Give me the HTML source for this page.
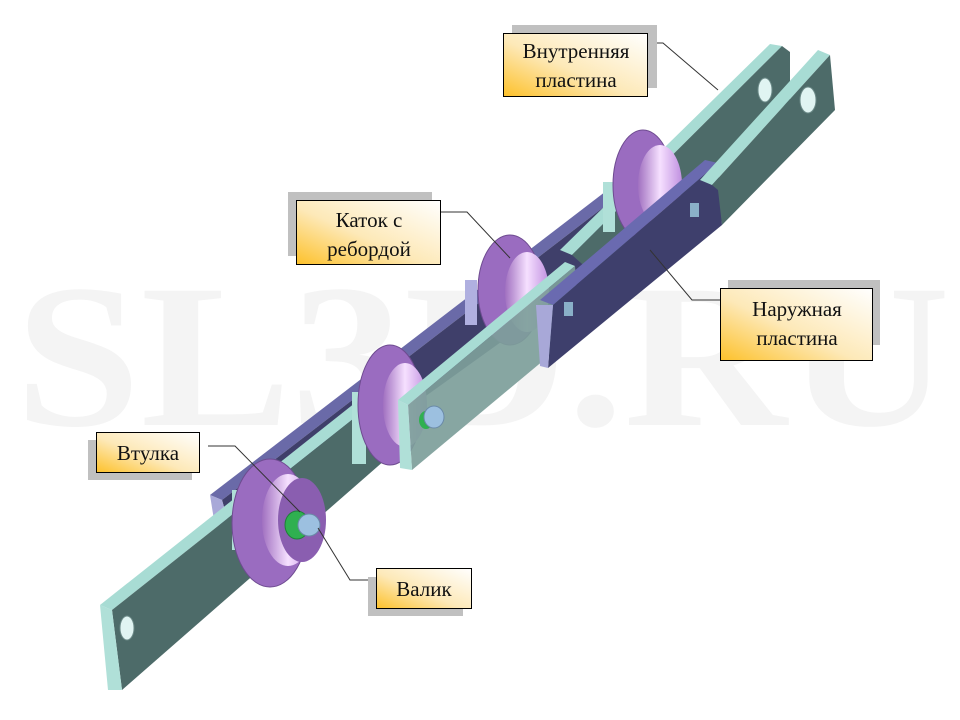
<!DOCTYPE html>
<html><head><meta charset="utf-8"><style>
html,body{margin:0;padding:0;background:#fff;}
svg{display:block;}
</style></head><body>
<svg width="960" height="720" viewBox="0 0 960 720" xmlns="http://www.w3.org/2000/svg">
<defs>
<linearGradient id="lab" x1="0" y1="1" x2="1" y2="0">
<stop offset="0" stop-color="#fdc12a"/><stop offset="0.45" stop-color="#fde9b8"/><stop offset="1" stop-color="#ffffff"/>
</linearGradient>
<linearGradient id="hub" x1="0" y1="0" x2="1" y2="0">
<stop offset="0" stop-color="#a070c0"/><stop offset="0.5" stop-color="#f6e0ff"/><stop offset="1" stop-color="#c090e0"/>
</linearGradient>
</defs>
<text x="15" y="425" font-family="Liberation Serif, serif" font-weight="bold" font-size="205" fill="#f4f4f4" textLength="935" lengthAdjust="spacingAndGlyphs">SL3D.RU</text>

<!-- back navy plate -->
<polygon points="210,495 640,165 652,170 222,500" fill="#6a6aa8"/>
<polygon points="222,500 652,170 660,228 232,535" fill="#3f3f6a"/>
<polygon points="210,495 222,500 232,535 214,520" fill="#a8a8d8"/>
<!-- back upper right inner plate -->
<polygon points="560,250 770,44 782,46 572,255" fill="#a8dcd4"/>
<polygon points="572,255 782,46 790,52 790,100 600,280" fill="#4d6b69"/>
<ellipse cx="765" cy="90" rx="7" ry="12" fill="#e0f4f2" stroke="#6c8a88"/>

<!-- back lower-left inner plate -->
<polygon points="100,605 365,395 377,400 112,610" fill="#a8dcd4"/>
<polygon points="112,610 377,400 385,460 122,690" fill="#4d6b69"/>
<polygon points="100,605 112,610 122,690 108,690" fill="#b0e0d8"/>
<ellipse cx="127" cy="628" rx="7" ry="12" fill="#e0f4f2" stroke="#6c8a88"/>

<!-- rollers -->
<g>
<rect x="232" y="490" width="10" height="60" fill="#b0e0d8"/>
<ellipse cx="270" cy="523" rx="38" ry="64" fill="#9a6cc0" stroke="#6e4b90"/>
<ellipse cx="288" cy="520" rx="26" ry="46" fill="url(#hub)"/>
<ellipse cx="302" cy="520" rx="24" ry="42" fill="#8a5eb0"/>
<ellipse cx="297" cy="525" rx="12" ry="14" fill="#2fb050" stroke="#1e8038"/>
<ellipse cx="309" cy="525" rx="11" ry="11" fill="#9cc0e0" stroke="#6a8aa8"/>

<rect x="352" y="392" width="14" height="72" fill="#b0e0d8"/>
<ellipse cx="390" cy="405" rx="32" ry="60" fill="#9a6cc0" stroke="#6e4b90"/>
<ellipse cx="405" cy="405" rx="22" ry="42" fill="url(#hub)"/>

<rect x="465" y="280" width="12" height="45" fill="#b0b0e0"/>
<ellipse cx="510" cy="290" rx="32" ry="55" fill="#9a6cc0" stroke="#6e4b90"/>
<ellipse cx="527" cy="292" rx="22" ry="40" fill="url(#hub)"/>

<rect x="603" y="182" width="12" height="50" fill="#b0e0d8"/>
<ellipse cx="643" cy="185" rx="30" ry="55" fill="#9a6cc0" stroke="#6e4b90"/>
<ellipse cx="660" cy="185" rx="22" ry="40" fill="url(#hub)"/>
</g>

<!-- front middle inner plate (teal) -->
<polygon points="398,400 565,262 575,266 408,405" fill="#a8dcd4"/>
<polygon points="408,405 575,266 580,330 412,470" fill="#7d9e9a" opacity="0.92"/>
<polygon points="398,400 408,405 412,470 400,468" fill="#b0e0d8"/>
<ellipse cx="426" cy="420" rx="7" ry="9" fill="#2fb050"/>
<ellipse cx="434" cy="417" rx="10" ry="11" fill="#9cc0e0" stroke="#6a8aa8"/>

<!-- front navy outer plate -->
<polygon points="540,300 705,160 718,163 553,305" fill="#6a6ab0"/>
<polygon points="553,305 718,163 722,225 548,368" fill="#3e3f6c"/>
<polygon points="536,305 553,305 548,368 540,366" fill="#a8a8d8"/>
<rect x="690" y="203" width="9" height="14" fill="#8ab0c8"/>
<rect x="564" y="302" width="9" height="14" fill="#8ab0c8"/>

<!-- front upper right inner plate -->
<polygon points="700,180 818,50 830,55 712,185" fill="#a8dcd4"/>
<polygon points="712,185 830,55 835,110 722,225 718,190" fill="#4d6b69"/>
<ellipse cx="808" cy="100" rx="8" ry="13" fill="#e0f4f2" stroke="#6c8a88"/>

<!-- leader lines -->
<g stroke="#333" stroke-width="1" fill="none">
<polyline points="648,43 663,43 718,90"/>
<polyline points="441,212 467,212 510,258"/>
<polyline points="720,300 692,300 650,250"/>
<polyline points="208,446 235,446 300,512"/>
<polyline points="376,580 350,580 318,528"/>
</g>

<!-- labels -->
<g font-family="Liberation Serif, serif" font-size="21" fill="#111" text-anchor="middle">
<rect x="512" y="25" width="145" height="63" fill="#c0c0c0"/>
<rect x="503.5" y="33.5" width="144" height="63" fill="url(#lab)" stroke="#000"/>
<text x="576" y="58">Внутренняя</text><text x="576" y="87">пластина</text>

<rect x="288" y="192" width="144" height="64" fill="#c0c0c0"/>
<rect x="296.5" y="200.5" width="144" height="64" fill="url(#lab)" stroke="#000"/>
<text x="369" y="227">Каток с</text><text x="369" y="256">ребордой</text>

<rect x="728" y="280" width="152" height="65" fill="#c0c0c0"/>
<rect x="720.5" y="288.5" width="152" height="72" fill="url(#lab)" stroke="#000"/>
<text x="797" y="316">Наружная</text><text x="797" y="345">пластина</text>

<rect x="88" y="440" width="104" height="40" fill="#c0c0c0"/>
<rect x="96.5" y="432.5" width="103" height="40" fill="url(#lab)" stroke="#000"/>
<text x="148" y="460">Втулка</text>

<rect x="368" y="577" width="95" height="39" fill="#c0c0c0"/>
<rect x="376.5" y="568.5" width="95" height="40" fill="url(#lab)" stroke="#000"/>
<text x="424" y="596">Валик</text>
</g>
</svg>
</body></html>
